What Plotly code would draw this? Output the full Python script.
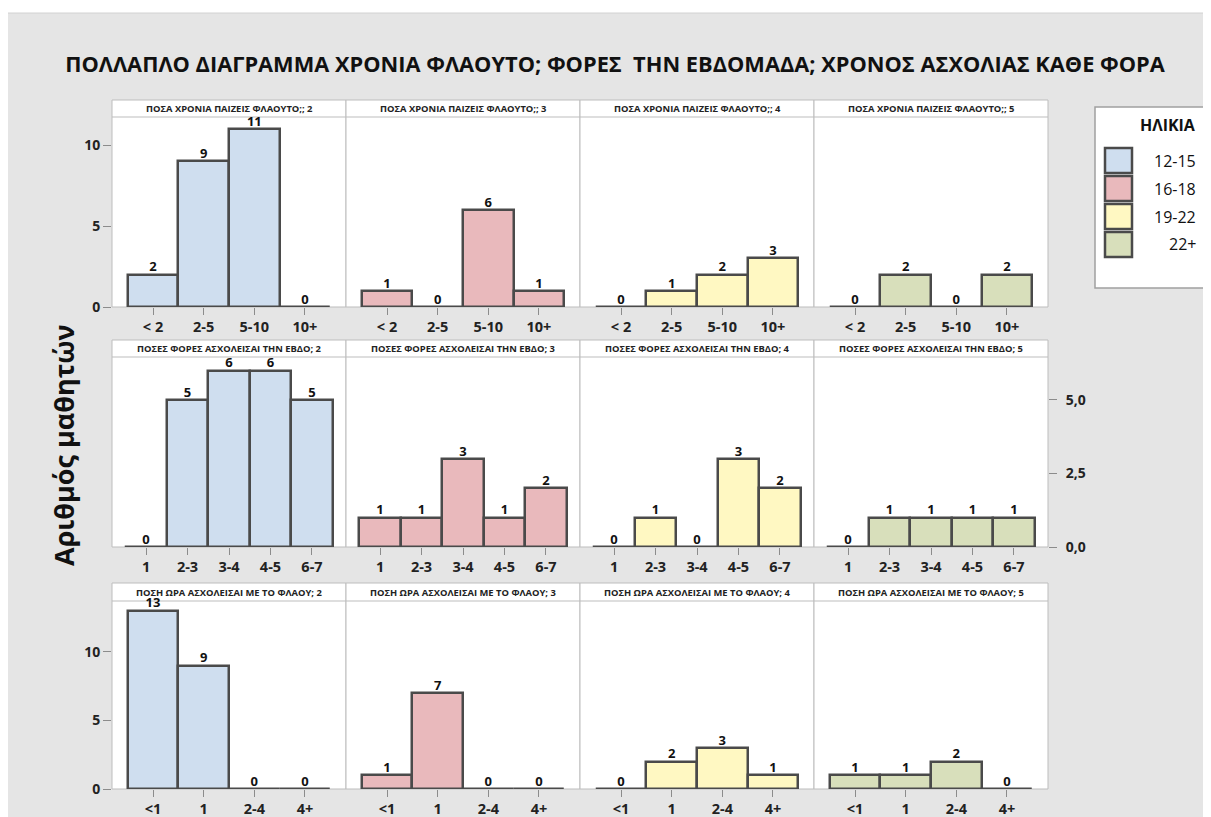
import plotly.graph_objects as go

# Reference canvas size; the page body adds an 8px margin at top/left
REF_W, REF_H = 1211, 817
OFF = 8
W, H = REF_W - OFF, REF_H - OFF

# ---------------- data ----------------
years_cats = ["< 2", "2-5", "5-10", "10+"]
times_cats = ["1", "2-3", "3-4", "4-5", "6-7"]
hours_cats = ["<1", "1", "2-4", "4+"]

age_groups = ["12-15", "16-18", "19-22", "22+"]
panel_levels = ["2", "3", "4", "5"]

years_12_15 = [2, 9, 11, 0]
years_16_18 = [1, 0, 6, 1]
years_19_22 = [0, 1, 2, 3]
years_22p = [0, 2, 0, 2]

times_12_15 = [0, 5, 6, 6, 5]
times_16_18 = [1, 1, 3, 1, 2]
times_19_22 = [0, 1, 0, 3, 2]
times_22p = [0, 1, 1, 1, 1]

hours_12_15 = [13, 9, 0, 0]
hours_16_18 = [1, 7, 0, 0]
hours_19_22 = [0, 2, 3, 1]
hours_22p = [1, 1, 2, 0]

strip_prefixes = [
    "ΠΟΣΑ ΧΡΟΝΙΑ ΠΑΙΖΕΙΣ ΦΛΑΟΥΤΟ;; ",
    "ΠΟΣΕΣ ΦΟΡΕΣ ΑΣΧΟΛΕΙΣΑΙ ΤΗΝ ΕΒΔΟ; ",
    "ΠΟΣΗ ΩΡΑ ΑΣΧΟΛΕΙΣΑΙ ΜΕ ΤΟ ΦΛΑΟΥ; ",
]
title_text = "ΠΟΛΛΑΠΛΟ ΔΙΑΓΡΑΜΜΑ ΧΡΟΝΙΑ ΦΛΑΟΥΤΟ; ΦΟΡΕΣ  ΤΗΝ ΕΒΔΟΜΑΔΑ; ΧΡΟΝΟΣ ΑΣΧΟΛΙΑΣ ΚΑΘΕ ΦΟΡΑ"
ytitle_text = "Αριθμός μαθητών"
legend_title = "ΗΛΙΚΙΑ"

rows = [
    (years_cats, [years_12_15, years_16_18, years_19_22, years_22p]),
    (times_cats, [times_12_15, times_16_18, times_19_22, times_22p]),
    (hours_cats, [hours_12_15, hours_16_18, hours_19_22, hours_22p]),
]

# ---------------- style ----------------
fills = ["#cfdeef", "#e9b9bc", "#fff8c2", "#d8dfbb"]
outline = "#4a4a4a"
border = "#bdbdbd"
tickgray = "#8c8c8c"
bg_gray = "#e5e5e5"
FONT = "Open Sans"

col_px = [(112, 346), (346, 580), (580, 814), (814, 1048)]
row_px = [(100, 117, 307), (340, 357, 547), (583, 601, 789)]  # strip top, plot top, plot bottom
x_ranges = [[-0.81, 3.81], [-0.82, 4.82], [-0.81, 3.81]]
y_ranges = [[0, 11.73], [0, 6.46], [0, 13.7]]
LEG_TEXT_RIGHT = 1198


def px_x(x):
    return (x - OFF) / W


def px_y(y):
    return 1 - (y - OFF) / H


fig = go.Figure()
layout = {}
shapes = []
annotations = []

# white strip above the gray frame, and the frame's top border
shapes.append(dict(type="rect", xref="paper", yref="paper", x0=-0.01, x1=1.01,
                   y0=px_y(13), y1=1.01, fillcolor="white",
                   line=dict(width=0), layer="below"))
shapes.append(dict(type="line", xref="paper", yref="paper", x0=0, x1=1.01,
                   y0=px_y(13), y1=px_y(13),
                   line=dict(color="#d2d2d2", width=1), layer="below"))

for r, (cats, series) in enumerate(rows):
    st, pt, pb = row_px[r]
    for c in range(4):
        idx = r * 4 + c + 1
        sfx = "" if idx == 1 else str(idx)
        xa, ya = "x" + sfx, "y" + sfx
        vals = series[c]
        fig.add_trace(go.Bar(
            x=cats, y=vals, xaxis=xa, yaxis=ya,
            marker=dict(color=fills[c], line=dict(color=outline, width=2.5)),
            showlegend=False, hoverinfo="x+y",
        ))
        fig.add_trace(go.Scatter(
            x=cats, y=vals, xaxis=xa, yaxis=ya, mode="text",
            text=[str(v) for v in vals], textposition="top center",
            textfont=dict(family=FONT, size=13, color="#111111", weight="bold"),
            cliponaxis=False, showlegend=False, hoverinfo="skip",
        ))
        x0, x1 = col_px[c]
        layout["xaxis" + sfx] = dict(
            domain=[px_x(x0), px_x(x1)], anchor=ya, range=x_ranges[r],
            type="category", showgrid=False, zeroline=False, showline=False,
            ticks="outside", ticklen=7, tickcolor=tickgray, tickwidth=1,
            tickfont=dict(family=FONT, size=14.5, color="#222222", weight="bold"),
            fixedrange=True, automargin=False,
        )
        yax = dict(
            domain=[px_y(pb), px_y(pt)], anchor=xa, range=y_ranges[r],
            showgrid=False, zeroline=False, showline=False, fixedrange=True,
            automargin=False,
            tickfont=dict(family=FONT, size=14, color="#222222", weight="bold"),
        )
        if c == 0 and r in (0, 2):
            yax.update(ticks="outside", ticklen=8, tickcolor=tickgray,
                       tickvals=[0, 5, 10], ticktext=["0", "5", "10"],
                       showticklabels=True)
        elif c == 3 and r == 1:
            yax.update(side="right", ticks="outside", ticklen=8, tickcolor=tickgray,
                       tickvals=[0, 2.5, 5], ticktext=["0,0", "2,5", "5,0"],
                       showticklabels=True, ticklabelstandoff=6)
        else:
            yax.update(ticks="", showticklabels=False)
        layout["yaxis" + sfx] = yax

        # panel background + border + strip
        shapes.append(dict(type="rect", xref="paper", yref="paper",
                           x0=px_x(x0), x1=px_x(x1), y0=px_y(pb), y1=px_y(st),
                           fillcolor="white", line=dict(color=border, width=1),
                           layer="below"))
        shapes.append(dict(type="line", xref="paper", yref="paper",
                           x0=px_x(x0), x1=px_x(x1), y0=px_y(pt), y1=px_y(pt),
                           line=dict(color=border, width=1), layer="below"))
        annotations.append(dict(
            xref="paper", yref="paper", x=px_x((x0 + x1) / 2), y=px_y((st + pt) / 2 + 0.5),
            text=strip_prefixes[r] + panel_levels[c], showarrow=False,
            xanchor="center", yanchor="middle",
            font=dict(family=FONT, size=9.4, color="#222222", weight="bold"),
        ))

# y-axis title
annotations.append(dict(
    xref="paper", yref="paper", x=px_x(63), y=px_y(445), text=ytitle_text,
    textangle=-90, showarrow=False, xanchor="center", yanchor="middle",
    font=dict(family=FONT, size=27, color="#111111", weight="bold"),
))

# manual legend
shapes.append(dict(type="rect", xref="paper", yref="paper",
                   x0=px_x(1095), x1=px_x(1220), y0=px_y(288), y1=px_y(107),
                   fillcolor="white", line=dict(color="#a0a0a0", width=1.5),
                   layer="below"))
annotations.append(dict(
    xref="paper", yref="paper", x=px_x(LEG_TEXT_RIGHT), y=px_y(125), text=legend_title,
    showarrow=False, xanchor="right", yanchor="middle",
    font=dict(family=FONT, size=16, color="#111111", weight="bold"),
))
for i, g in enumerate(age_groups):
    top = 148 + i * 28
    shapes.append(dict(type="rect", xref="paper", yref="paper",
                       x0=px_x(1105), x1=px_x(1132), y0=px_y(top + 25), y1=px_y(top),
                       fillcolor=fills[i], line=dict(color=outline, width=2.5),
                       layer="above"))
    annotations.append(dict(
        xref="paper", yref="paper", x=px_x(LEG_TEXT_RIGHT), y=px_y(top + 12.5), text=g,
        showarrow=False, xanchor="right", yanchor="middle",
        font=dict(family=FONT, size=16, color="#111111"),
    ))

layout.update(
    width=W, height=H,
    margin=dict(l=0, r=0, t=0, b=0, autoexpand=False),
    paper_bgcolor=bg_gray, plot_bgcolor="rgba(0,0,0,0)",
    bargap=0, showlegend=False,
    title=dict(text=title_text, x=px_x(615), y=px_y(64), xanchor="center",
               yanchor="middle", xref="paper", yref="paper", automargin=False,
               font=dict(family=FONT, size=21.8, color="#111111", weight="bold")),
    shapes=shapes, annotations=annotations,
)
fig.update_layout(**layout)
fig.write_html("out.html")
